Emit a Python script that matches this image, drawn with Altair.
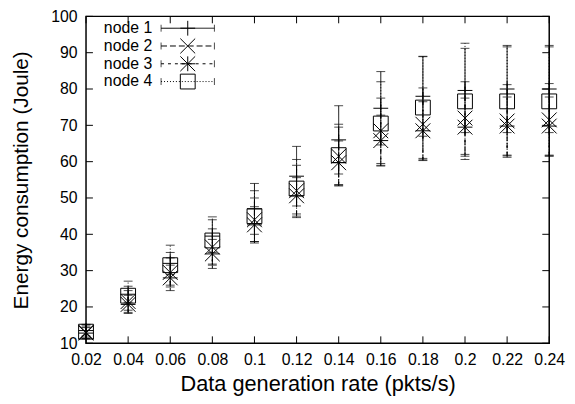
import altair as alt
import pandas as pd

# ---- data ----
rates = [0.02, 0.04, 0.06, 0.08, 0.10, 0.12, 0.14, 0.16, 0.18, 0.20, 0.22, 0.24]
series_names = ["node 1", "node 2", "node 3", "node 4"]

node1_mean = [13.5, 23.5, 32.0, 39.5, 47.0, 56.0, 66.0, 74.7, 78.0, 79.6, 80.0, 80.0]
node1_err = [1.5, 2.2, 3.0, 4.5, 7.0, 8.2, 9.4, 10.1, 11.0, 11.6, 12.0, 12.0]
node2_mean = [13.0, 21.5, 29.5, 36.5, 44.0, 52.0, 61.5, 68.5, 70.3, 72.0, 71.2, 71.5]
node2_err = [1.5, 3.0, 4.0, 5.0, 6.0, 7.0, 8.0, 9.0, 10.0, 10.0, 10.0, 10.0]
node3_mean = [12.8, 20.7, 28.0, 34.6, 42.6, 50.6, 59.7, 65.8, 68.5, 69.5, 69.8, 69.8]
node3_err = [1.5, 2.5, 3.5, 4.0, 5.0, 5.0, 6.0, 7.0, 8.0, 8.0, 8.0, 8.0]
node4_mean = [13.2, 23.1, 31.5, 38.3, 45.0, 52.6, 61.8, 70.5, 74.9, 76.6, 76.6, 76.6]
node4_err = [2.0, 4.0, 5.5, 6.5, 7.0, 8.0, 8.5, 11.5, 14.0, 16.0, 15.0, 15.0]

y_ticks = [10, 20, 30, 40, 50, 60, 70, 80, 90, 100]

means = [node1_mean, node2_mean, node3_mean, node4_mean]
errs = [node1_err, node2_err, node3_err, node4_err]

rows = []
for name, m, e in zip(series_names, means, errs):
    for x, mv, ev in zip(rates, m, e):
        rows.append({"rate": x, "series": name, "mean": mv, "lo": mv - ev, "hi": mv + ev})
df = pd.DataFrame(rows)

W, H = 469, 331
FONT = "Liberation Sans"

xscale = alt.Scale(domain=[0.02, 0.24], nice=False, zero=False)
yscale = alt.Scale(domain=[10, 100], nice=False, zero=False)

dash_scale = alt.Scale(domain=series_names, range=[[1, 0], [6, 3], [3, 4], [1, 2]])
shape_scale = alt.Scale(
    domain=series_names,
    range=[
        "M-1,0H1M0,-1V1",
        "M-1,-1L1,1M-1,1L1,-1",
        "M-1,0H1M0,-1V1M-1,-1L1,1M-1,1L1,-1",
        "square",
    ],
)

x_axis = alt.Axis(
    values=rates,
    format=".2~f",
    title="Data generation rate (pkts/s)",
    ticks=False,
    tickSize=0,
    domain=False,
    grid=False,
    labelPadding=9,
    labelFontSize=16,
    labelFont=FONT,
    labelColor="black",
    labelOverlap=False,
    labelBound=False,
    titleFont=FONT,
    titleFontSize=22,
    titleFontWeight="normal",
    titleColor="black",
    titlePadding=6,
    labelFlush=False,
)
y_axis = alt.Axis(
    values=y_ticks,
    title="Energy consumption (Joule)",
    ticks=False,
    tickSize=0,
    domain=False,
    grid=False,
    labelPadding=9,
    labelFontSize=16,
    labelFont=FONT,
    labelColor="black",
    labelOverlap=False,
    labelBound=False,
    titleFont=FONT,
    titleFontSize=21,
    titleFontWeight="normal",
    titleColor="black",
    titlePadding=20,
    labelFlush=False,
)


def X(field):
    return alt.X(field, scale=xscale, axis=x_axis)


def Y(field):
    return alt.Y(field, scale=yscale, axis=y_axis)


base = alt.Chart(df)

bars = base.mark_rule(color="black", strokeWidth=1).encode(
    x=X("rate:Q"),
    y=Y("lo:Q"),
    y2="hi:Q",
    strokeDash=alt.StrokeDash("series:N", scale=dash_scale, legend=None),
)

cap_hi = base.mark_point(filled=False, color="black", strokeWidth=1, size=81, shape="M-1,0H1").encode(
    x=X("rate:Q"), y=Y("hi:Q")
)
cap_lo = base.mark_point(filled=False, color="black", strokeWidth=1, size=81, shape="M-1,0H1").encode(
    x=X("rate:Q"), y=Y("lo:Q")
)

markers = base.mark_point(filled=False, color="black", strokeWidth=1, size=225, opacity=1).encode(
    x=X("rate:Q"),
    y=Y("mean:Q"),
    shape=alt.Shape("series:N", scale=shape_scale, legend=None),
)

# inward (mirrored) tick marks, gnuplot style
xt = pd.DataFrame({"rate": rates})
yt = pd.DataFrame({"val": y_ticks})
TL = 7
xt_bottom = alt.Chart(xt).mark_rule(color="black", strokeWidth=1).encode(
    x=X("rate:Q"), y=alt.value(H), y2=alt.value(H - TL)
)
xt_top = alt.Chart(xt).mark_rule(color="black", strokeWidth=1).encode(
    x=X("rate:Q"), y=alt.value(0), y2=alt.value(TL)
)
yt_left = alt.Chart(yt).mark_rule(color="black", strokeWidth=1).encode(
    y=Y("val:Q"), x=alt.value(0), x2=alt.value(TL)
)
yt_right = alt.Chart(yt).mark_rule(color="black", strokeWidth=1).encode(
    y=Y("val:Q"), x=alt.value(W), x2=alt.value(W - TL)
)

# legend (key) box in upper-left, gnuplot style
leg = pd.DataFrame({"series": series_names, "ly": [12, 30, 48, 66]})
lbase = alt.Chart(leg)
LX0, LX1, LXM, LXT = 76, 130, 103, 67
leg_line = lbase.mark_rule(color="black", strokeWidth=1).encode(
    x=alt.value(LX0), x2=alt.value(LX1),
    y=alt.Y("ly:Q", scale=None),
    strokeDash=alt.StrokeDash("series:N", scale=dash_scale, legend=None),
)
leg_end0 = lbase.mark_point(filled=False, color="black", strokeWidth=1, size=49, shape="M0,-1V1").encode(
    x=alt.value(LX0), y=alt.Y("ly:Q", scale=None)
)
leg_end1 = lbase.mark_point(filled=False, color="black", strokeWidth=1, size=49, shape="M0,-1V1").encode(
    x=alt.value(LX1), y=alt.Y("ly:Q", scale=None)
)
leg_mark = lbase.mark_point(filled=False, color="black", strokeWidth=1, size=225, opacity=1).encode(
    x=alt.value(LXM), y=alt.Y("ly:Q", scale=None),
    shape=alt.Shape("series:N", scale=shape_scale, legend=None),
)
leg_text = lbase.mark_text(align="right", baseline="middle", fontSize=16, font=FONT, color="black").encode(
    x=alt.value(LXT), y=alt.Y("ly:Q", scale=None), text="series:N"
)

chart = (
    alt.layer(
        bars, cap_hi, cap_lo, markers,
        xt_bottom, xt_top, yt_left, yt_right,
        leg_line, leg_end0, leg_end1, leg_mark, leg_text,
    )
    .properties(
        width=W,
        height=H,
        autosize=alt.AutoSizeParams(type="none"),
        padding={"left": 79, "top": 6, "right": 18, "bottom": 58},
        background="white",
    )
    .configure_view(stroke="black", strokeWidth=1.5)
    .configure_axis(labelOverlap=False)
)

chart.save("out.html", embed_options={"renderer": "svg", "actions": False})
